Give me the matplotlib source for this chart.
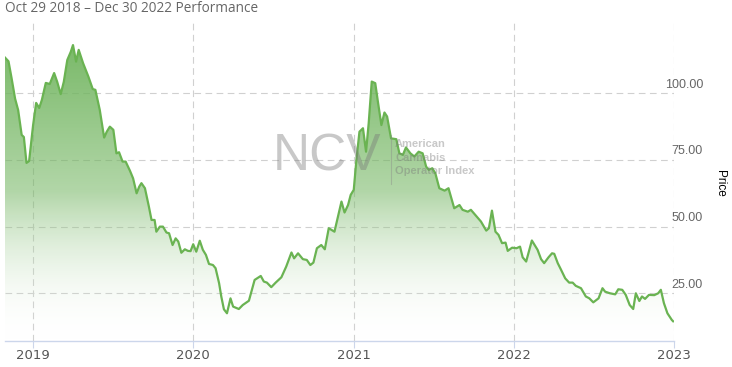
import numpy as np
import pandas as pd
import matplotlib
matplotlib.use('Agg')
import matplotlib.pyplot as plt
import matplotlib.dates as mdates
from matplotlib.transforms import blended_transform_factory

start_date = '2018-10-29'
# days after the start date
day_offsets = [0, 8, 15, 23, 30, 38, 43, 49, 55, 64, 71, 78, 84, 93, 102, 112, 119, 127, 134, 142,
               150, 155, 162, 168, 178, 190, 200, 206, 216, 226, 232, 239, 247, 254, 260, 268, 275, 285, 292, 300,
               306, 311, 319, 328, 334, 341, 345, 353, 360, 368, 374, 382, 389, 395, 402, 410, 417, 423, 429, 436,
               444, 451, 458, 465, 474, 480, 488, 493, 499, 506, 514, 520, 533, 542, 556, 569, 583, 590, 597, 607,
               617, 630, 641, 653, 659, 668, 679, 688, 696, 703, 711, 721, 729, 738, 751, 759, 767, 774, 782, 788,
               795, 801, 808, 816, 823, 829, 836, 844, 850, 858, 865, 871, 880, 892, 899, 907, 914, 924, 933, 943,
               952, 960, 966, 974, 981, 990, 1002, 1011, 1024, 1036, 1043, 1055, 1062, 1074, 1085, 1097, 1103, 1110, 1118, 1125,
               1133, 1141, 1146, 1156, 1166, 1174, 1180, 1188, 1201, 1214, 1222, 1229, 1239, 1247, 1252, 1260, 1267, 1277, 1286, 1294,
               1301, 1313, 1324, 1332, 1341, 1353, 1362, 1368, 1379, 1391, 1398, 1407, 1415, 1424, 1432, 1438, 1446, 1452, 1459, 1468,
               1480, 1489, 1495, 1502, 1510, 1520, 1523]
prices = [113.4, 112.0, 105.7, 98.0, 93.7, 84.4, 83.6, 73.9, 74.6, 88.0, 96.4, 94.5, 97.5, 103.9, 103.5, 107.6, 104.3, 99.7, 104.3, 112.5,
          115.6, 118.1, 111.9, 116.3, 111.3, 106.3, 101.6, 101.3, 93.8, 83.4, 85.6, 87.5, 86.3, 77.5, 77.9, 74.4, 74.4, 70.9, 68.1, 62.5,
          65.0, 66.3, 64.4, 57.5, 52.5, 52.5, 48.1, 50.0, 50.0, 47.8, 47.5, 43.1, 45.6, 44.4, 40.2, 41.5, 40.9, 40.8, 43.4, 40.6,
          44.7, 41.3, 39.4, 36.0, 35.6, 34.4, 28.8, 23.8, 19.0, 17.5, 23.1, 20.0, 19.1, 20.6, 22.2, 30.0, 31.5, 29.4, 29.0, 27.3,
          29.0, 31.0, 35.0, 40.3, 38.1, 40.0, 37.8, 37.5, 35.6, 36.5, 41.9, 43.1, 41.5, 49.4, 48.1, 53.8, 59.4, 55.3, 58.1, 61.9,
          63.8, 75.0, 85.6, 86.9, 78.1, 88.7, 104.4, 103.8, 96.9, 88.1, 92.8, 91.3, 83.1, 82.8, 77.5, 76.9, 79.7, 77.5, 76.3, 78.1,
          77.5, 72.5, 71.3, 71.9, 70.0, 64.4, 63.5, 64.4, 56.9, 58.1, 56.3, 55.6, 56.3, 54.0, 51.9, 48.5, 49.4, 56.0, 48.1, 46.9,
          43.8, 44.0, 40.9, 42.1, 41.9, 42.5, 38.5, 36.9, 44.8, 41.3, 37.8, 36.3, 38.5, 40.0, 39.8, 36.3, 34.0, 30.6, 29.0, 29.0,
          27.8, 26.9, 23.8, 23.1, 21.6, 23.1, 26.9, 25.6, 25.0, 24.6, 26.5, 26.3, 24.4, 20.6, 19.1, 25.0, 22.1, 23.8, 22.9, 24.4,
          24.3, 25.0, 26.3, 21.3, 17.5, 15.0, 14.5]

year_ticks = ['2019-01-01', '2020-01-01', '2021-01-01', '2022-01-01', '2023-01-01']
year_labels = ['2019', '2020', '2021', '2022', '2023']
price_ticks = [25, 50, 75, 100]
price_labels = ['25.00', '50.00', '75.00', '100.00']
title = 'Oct 29 2018 \u2013 Dec 30 2022 Performance'

dates = pd.Timestamp(start_date) + pd.to_timedelta(day_offsets, unit='D')
xnum = mdates.date2num(dates)
y = np.array(prices)

W, H = 732, 367
fig = plt.figure(figsize=(W / 100, H / 100), dpi=100)
ax = fig.add_axes([5 / W, (H - 341) / H, (674 - 5) / W, (341 - 20) / H])
ymin, ymax = 7.1, 127.5
ax.set_xlim(xnum[0], xnum[-1])
ax.set_ylim(ymin, ymax)

# gradient fill under the line
grad = np.linspace(1, 0, 256).reshape(-1, 1)
cmap = matplotlib.colors.LinearSegmentedColormap.from_list(
    'g', [(1, 1, 1, 0), (0.45, 0.71, 0.38, 0.55), (0.45, 0.71, 0.38, 0.95)])
img = ax.imshow(grad, extent=[xnum[0], xnum[-1], ymin, 118.5], aspect='auto',
                cmap=cmap, vmin=0, vmax=1, origin='upper', zorder=1)
clip = matplotlib.patches.Polygon(np.vstack([np.column_stack([xnum, y]),
                                             [[xnum[-1], ymin], [xnum[0], ymin]]]),
                                  closed=True, transform=ax.transData)
img.set_clip_path(clip)
ax.set_xlim(xnum[0], xnum[-1])
ax.set_ylim(ymin, ymax)
ax.plot(xnum, y, color='#6ab352', lw=1.6, zorder=3, solid_joinstyle='round')

# grid
for v in price_ticks:
    ax.axhline(v, color='#d0d0d0', lw=0.8, ls=(0, (6, 4)), zorder=0)
for d in year_ticks:
    ax.axvline(mdates.date2num(pd.Timestamp(d)), color='#d0d0d0', lw=0.8, ls=(0, (6, 4)), zorder=0)

for s in ['top', 'right', 'left']:
    ax.spines[s].set_visible(False)
ax.spines['bottom'].set_color('#ccd6eb')
ax.spines['bottom'].set_linewidth(1.0)
ax.set_yticks([])
ax.set_xticks([mdates.date2num(pd.Timestamp(d)) for d in year_ticks])
ax.set_xticklabels(year_labels, fontsize=9.5, color='#555555',
                   family=['Liberation Sans Narrow', 'DejaVu Sans'])
ax.tick_params(axis='x', length=5, width=0.8, color='#ccd6eb', pad=1)

tr = blended_transform_factory(fig.transFigure, ax.transData)
for v, lab in zip(price_ticks, price_labels):
    ax.text(703 / W, v + 1.0, lab, transform=tr, ha='right', va='bottom',
            fontsize=9, color='#666666', family=['Liberation Sans', 'DejaVu Sans'])

fig.text(720 / W, 1 - 183 / H, 'Price', rotation=270, ha='center', va='center',
         fontsize=8.5, color='#000000', family=['Liberation Sans', 'DejaVu Sans'])

fig.text(5 / W, 1 - 9 / H, title, ha='left', va='center', fontsize=9.8, color='#666666',
         family=['Open Sans', 'DejaVu Sans'])

# watermark
fig.text(327 / W, 1 - 157 / H, 'NCV', ha='center', va='center', fontsize=37,
         color='#777777', alpha=0.4, family=['Liberation Sans', 'DejaVu Sans'], zorder=10)
fig.add_artist(matplotlib.lines.Line2D([391 / W, 391 / W], [1 - 135 / H, 1 - 184 / H],
                                       color='#888888', alpha=0.4, lw=0.8))
for i, line in enumerate(['American', 'Cannabis', 'Operator Index']):
    fig.text(395 / W, 1 - (144 + 13.5 * i) / H, line, ha='left', va='center', fontsize=8,
             color='#777777', alpha=0.4, weight='bold', family=['Liberation Sans', 'DejaVu Sans'])

fig.savefig('out.png', dpi=100)
